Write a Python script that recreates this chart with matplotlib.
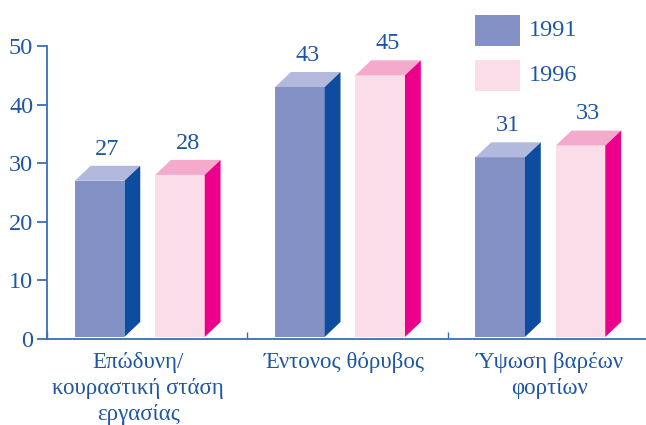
import matplotlib.pyplot as plt
from matplotlib.patches import Polygon, Rectangle

plt.rcParams['font.family'] = 'serif'
plt.rcParams['font.serif'] = ['Liberation Serif', 'DejaVu Serif']

# Data
categories = ['Επώδυνη/\nκουραστική στάση\nεργασίας', 'Έντονος θόρυβος', 'Ύψωση βαρέων\nφορτίων']
years = ['1991', '1996']
values_1991 = [27, 43, 31]
values_1996 = [28, 45, 33]

text_col = '#1f56a3'
axis_col = '#3c6db4'
front = ['#8491c5', '#fbdde9']
top = ['#b3b8dd', '#f4aacb']
side = ['#0d4c9f', '#ec008b']

fig = plt.figure(figsize=(6.46, 4.25), dpi=100)
ax = fig.add_axes([0.0728, 0.2024, 0.93, 0.7976])

bar_w = 0.2475
dx = 0.079
dy = 2.56
base = 0.35
offsets = [-0.361, 0.040]
label_dx = [-0.045, -0.015, 0.01]

for s, vals in enumerate([values_1991, values_1996]):
    for i, v in enumerate(vals):
        x0 = i + offsets[s]
        x1 = x0 + bar_w
        ax.bar(x0, v - base, bottom=base, width=bar_w, align='edge',
               color=front[s], edgecolor='none', zorder=2)
        ax.add_patch(Polygon([(x0, v), (x0 + dx, v + dy), (x1 + dx, v + dy), (x1, v)],
                             closed=True, facecolor=top[s], edgecolor='none', zorder=2))
        ax.add_patch(Polygon([(x1, base), (x1 + dx, base + dy), (x1 + dx, v + dy), (x1, v)],
                             closed=True, facecolor=side[s], edgecolor='none', zorder=2))
        ax.text(x0 + bar_w / 2 + dx / 2, v + dy + 1.9, str(v), ha='center', va='baseline',
                fontsize=17.5, color=text_col)

ax.set_xlim(-0.5, -0.5 + 0.93 * 646 / 202)
ax.set_ylim(0, 57.85)

for sp in ['top', 'right']:
    ax.spines[sp].set_visible(False)
for sp in ['left', 'bottom']:
    ax.spines[sp].set_color(axis_col)
    ax.spines[sp].set_linewidth(1.3)
ax.spines['left'].set_bounds(0, 50)

ax.set_yticks(range(0, 51, 10))
ax.tick_params(axis='y', direction='out', length=7, width=1.3, color=axis_col,
               labelcolor=text_col, labelsize=17.5, pad=3)
ax.set_xticks([-0.5, 0.5, 1.5, 2.5])
ax.set_xticklabels([])
ax.tick_params(axis='x', direction='in', length=5, width=1.0, color=axis_col)

for i, c in enumerate(categories):
    ax.text(i + label_dx[i], -2.2, c, ha='center', va='top', fontsize=16.5, color=text_col,
            linespacing=1.32)

# Legend
leg_x = 1.639
leg_y = [50.0, 42.3]
for s, y in enumerate(years):
    ax.add_patch(Rectangle((leg_x, leg_y[s]), 0.223, 5.3,
                           facecolor=front[s], edgecolor='none', clip_on=False))
    ax.text(leg_x + 0.267, leg_y[s] + 2.65, y, ha='left', va='center',
            fontsize=17.5, color=text_col)

fig.savefig('out.png', dpi=100)
